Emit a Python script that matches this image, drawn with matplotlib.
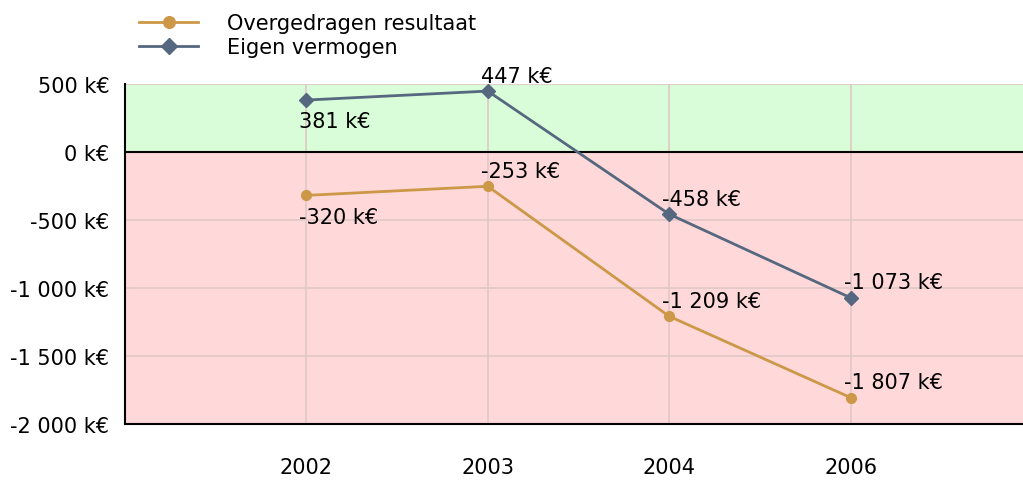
import matplotlib.pyplot as plt

years = ["2002", "2003", "2004", "2006"]
overgedragen = [-320, -253, -1209, -1807]
eigen_vermogen = [381, 447, -458, -1073]
# label above (+1) or below (-1) the point
pos_overgedragen = [-1, 1, 1, 1]
pos_eigen = [-1, 1, 1, 1]
y_ticks = [500, 0, -500, -1000, -1500, -2000]


def fmt(v):
    s = f"{abs(v):,}".replace(",", " ")
    return ("-" if v < 0 else "") + s + " k€"


fig = plt.figure(figsize=(10.23, 4.85), dpi=100)
ax = fig.add_axes([0.122, 0.124, 0.878, 0.701])

x = list(range(len(years)))
ax.axhspan(0, 500, color="#d9fdd9", zorder=0)
ax.axhspan(-2000, 0, color="#ffd8d9", zorder=0)

orange = "#cc9848"
blue = "#56687f"
ax.plot(x, overgedragen, color=orange, marker="o", markersize=7, linewidth=2,
        label="Overgedragen resultaat", zorder=3)
ax.plot(x, eigen_vermogen, color=blue, marker="D", markersize=7, linewidth=2,
        label="Eigen vermogen", zorder=3)

fs = 15
for vals, where in ((overgedragen, pos_overgedragen), (eigen_vermogen, pos_eigen)):
    for xi, v, p in zip(x, vals, where):
        if p > 0:
            ax.annotate(fmt(v), (xi, v), xytext=(-5, 4), textcoords="offset points",
                        ha="left", va="bottom", fontsize=fs)
        else:
            ax.annotate(fmt(v), (xi, v), xytext=(-5, -8), textcoords="offset points",
                        ha="left", va="top", fontsize=fs)

ax.axhline(0, color="black", linewidth=1.5, zorder=2)
ax.set_xlim(-1, 3.95)
ax.set_ylim(-2000, 500)
ax.set_xticks(x)
ax.set_xticklabels(years, fontsize=fs)
ax.set_yticks(y_ticks)
ax.set_yticklabels([fmt(t) for t in y_ticks], fontsize=fs)
ax.tick_params(axis="x", length=0, pad=24)
ax.tick_params(axis="y", length=0, pad=11)
ax.grid(True, color="#e0c8c8", linewidth=1.2, zorder=1)
ax.set_axisbelow(True)

for side in ("top", "right"):
    ax.spines[side].set_visible(False)
for side in ("left", "bottom"):
    ax.spines[side].set_linewidth(1.5)
    ax.spines[side].set_color("black")

fig.legend(loc="upper left", bbox_to_anchor=(0.118, 1.01), frameon=False,
           fontsize=fs, handlelength=2.8, handletextpad=1.4, labelspacing=0.2,
           markerscale=1.2)

fig.savefig("out.png", dpi=100)
